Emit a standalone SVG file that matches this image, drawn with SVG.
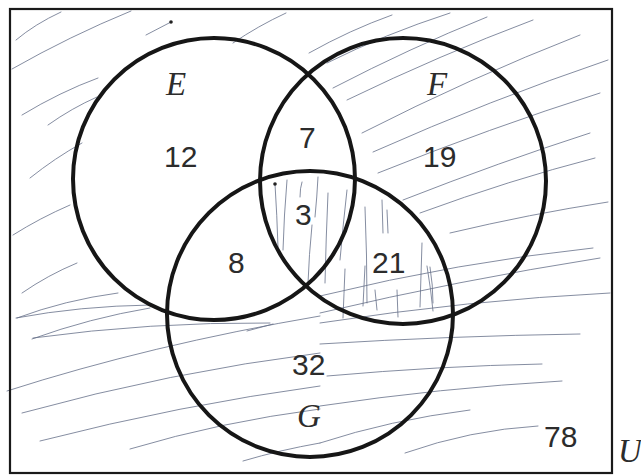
<svg xmlns="http://www.w3.org/2000/svg" width="641" height="476" viewBox="0 0 641 476">
<style>
.h{fill:none;stroke:#66708a;stroke-width:1;stroke-linecap:round;opacity:0.8}
.c{fill:none;stroke:#161616;stroke-width:4}
.n{font-family:"Liberation Sans",Arial,sans-serif;font-size:30px;fill:#2c2c2c}
.l{font-family:"Liberation Serif","Times New Roman",serif;font-style:italic;font-size:33px;fill:#2c2c2c}
</style>
<rect width="641" height="476" fill="#ffffff"/>
<g id="hatching">
<path class="h" d="M16 40 Q35 24 61 12"/>
<path class="h" d="M12 69 Q70 36 131 11"/>
<path class="h" d="M146 35 L171 22"/>
<circle cx="171" cy="22" r="1.8" fill="#222"/>
<path class="h" d="M22 115 Q60 92 98 78"/>
<path class="h" d="M48 125 Q72 108 97 97"/>
<path class="h" d="M30 178 Q55 158 82 143"/>
<path class="h" d="M13 235 Q40 218 70 205"/>
<path class="h" d="M233 43 Q258 26 286 13"/>
<path class="h" d="M309 53 Q350 30 392 15"/>
<path class="h" d="M327 63 Q385 34 450 13"/>
<path class="h" d="M333 88 Q410 48 487 17"/>
<path class="h" d="M347 100 Q440 55 533 20"/>
<path class="h" d="M362 133 Q470 78 580 35"/>
<path class="h" d="M373 152 Q490 100 608 60"/>
<path class="h" d="M378 173 Q490 128 600 93"/>
<path class="h" d="M403 200 Q500 162 590 133"/>
<path class="h" d="M420 213 Q510 180 595 158"/>
<path class="h" d="M450 233 Q530 214 608 202"/>
<path class="h" d="M320 296 Q460 262 593 248"/>
<path class="h" d="M320 313 Q460 280 600 258"/>
<path class="h" d="M320 323 Q470 300 610 293"/>
<path class="h" d="M320 344 Q450 336 580 334"/>
<path class="h" d="M327 376 Q440 366 542 364"/>
<path class="h" d="M320 406 Q440 388 562 381"/>
<path class="h" d="M22 293 Q48 275 77 263"/>
<path class="h" d="M17 318 Q65 300 118 293"/>
<path class="h" d="M32 339 Q90 318 150 308"/>
<path class="h" d="M247 331 L273 324"/>
<path class="h" d="M7 391 Q150 345 320 316"/>
<path class="h" d="M22 413 Q170 372 320 353"/>
<path class="h" d="M40 441 Q180 405 320 386"/>
<path class="h" d="M130 449 Q220 422 320 409"/>
<path class="h" d="M243 461 Q280 450 320 443"/>
<path class="h" d="M405 453 Q470 430 538 426"/>
<path class="h" d="M16 318 Q80 306 151 305"/>
<path class="h" d="M33 338 Q150 322 270 323"/>
<path class="h" d="M320 443 Q390 420 470 410"/>
<path class="h" d="M275 184 Q277 215 278 247"/>
<circle cx="275" cy="184" r="1.8" fill="#222"/>
<path class="h" d="M287 180 Q284 215 283 250"/>
<path class="h" d="M302 182 Q300 188 300 197"/>
<path class="h" d="M318 177 Q317 197 315 217"/>
<path class="h" d="M312 225 Q309 255 308 283"/>
<path class="h" d="M328 193 Q326 238 325 283"/>
<path class="h" d="M347 190 Q343 225 340 260"/>
<path class="h" d="M365 207 Q367 255 367 303"/>
<path class="h" d="M382 200 L383 233"/>
<path class="h" d="M387 210 L388 233"/>
<path class="h" d="M375 290 L377 310"/>
<path class="h" d="M397 290 L398 317"/>
<path class="h" d="M422 243 Q421 275 420 307"/>
<path class="h" d="M430 267 Q433 285 433 303"/>
<path class="h" d="M345 269 Q344 294 343 318"/>
<path class="h" d="M365 266 Q364 286 363 306"/>
<path class="h" d="M427 266 Q431 290 433 311"/>
</g>
<g id="universe">
<rect x="10" y="9" width="602" height="464" fill="none" stroke="#1a1a1a" stroke-width="2.2"/>
<text class="l" x="618" y="462">U</text>
<text class="n" x="544" y="447">78</text>
</g>
<g id="set-E">
<circle class="c" cx="214" cy="179" r="141"/>
<text class="l" x="166" y="95">E</text>
<text class="n" x="164" y="167">12</text>
</g>
<g id="set-F">
<circle class="c" cx="403" cy="181" r="143"/>
<text class="l" x="427" y="95">F</text>
<text class="n" x="423" y="167">19</text>
</g>
<g id="set-G">
<circle class="c" cx="310" cy="314" r="143"/>
<text class="l" x="297" y="427">G</text>
<text class="n" x="292" y="375">32</text>
</g>
<g id="regions">
<text class="n" x="299" y="148">7</text>
<text class="n" x="295" y="225">3</text>
<text class="n" x="228" y="273">8</text>
<text class="n" x="372" y="273">21</text>
</g>
</svg>
